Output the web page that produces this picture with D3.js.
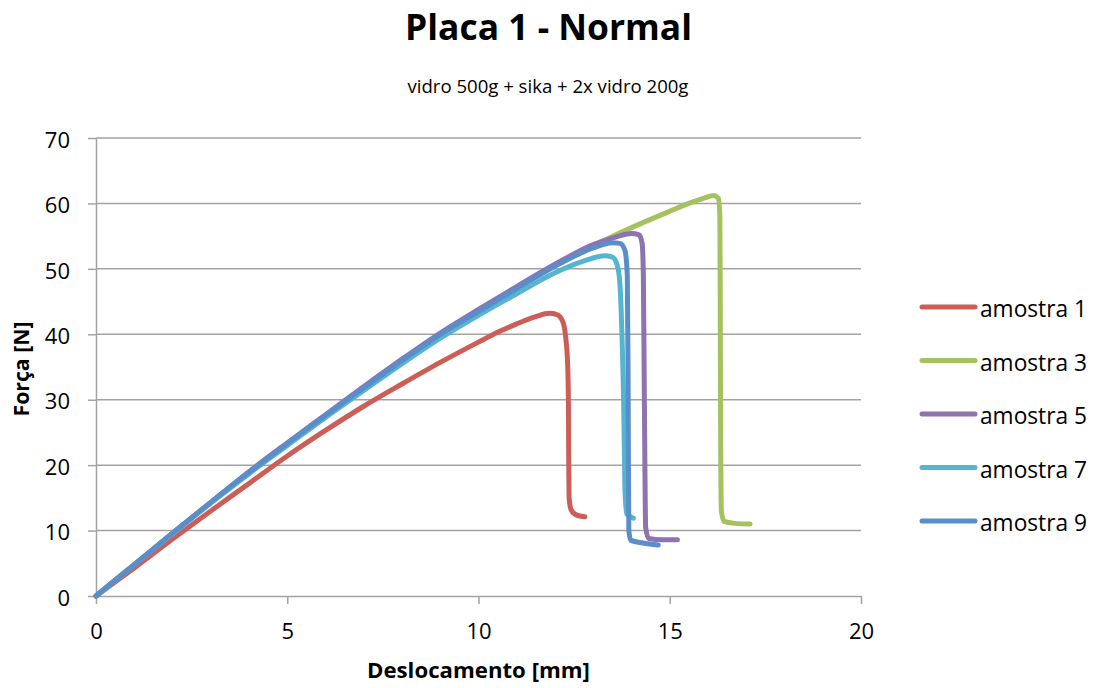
<!DOCTYPE html>
<html>
<head>
<meta charset="utf-8">
<script src="https://cdn.jsdelivr.net/npm/d3@7"></script>
<style>
  html, body { margin: 0; padding: 0; background: #fff; }
  svg { display: block; font-family: "Open Sans", "Noto Sans", sans-serif; }
</style>
</head>
<body>
<svg id="chart" width="1096" height="688"></svg>
<script>
// ---------------- DATA ----------------
const title = "Placa 1 - Normal";
const subtitle = "vidro 500g + sika + 2x vidro 200g";
const xAxisTitle = "Deslocamento [mm]";
const yAxisTitle = "Força [N]";
const xTicks = [0, 5, 10, 15, 20];
const yTicks = [0, 10, 20, 30, 40, 50, 60, 70];
const seriesNames = ["amostra 1", "amostra 3", "amostra 5", "amostra 7", "amostra 9"];
const seriesColors = ["#CD5E57", "#A5C25E", "#8D73B0", "#54B5CF", "#5A8ECB"];

// [deslocamento mm, força N]
const amostra1 = [[0,0],[1,4.3],[2,8.7],[3,13.0],[4,17.2],[5,21.4],[6,25.3],[7,29.0],[8,32.4],[9,35.7],[10,38.8],[10.5,40.3],[11,41.6],[11.5,42.7],[11.85,43.2],[12.05,43.0],[12.2,42.0],[12.28,39.5],[12.33,35.5],[12.35,30],[12.36,20],[12.37,15],[12.42,13.2],[12.55,12.4],[12.78,12.1]];
const amostra3 = [[0,0],[1,4.8],[2,9.6],[3,14.3],[4,18.9],[5,23.3],[6,27.6],[7,31.8],[8,36.0],[9,40.0],[10,43.6],[11,47.1],[12,50.5],[13,53.5],[14,56.3],[15,58.8],[15.5,60.0],[15.9,60.8],[16.15,61.2],[16.27,60.8],[16.31,58],[16.32,45],[16.33,25],[16.35,13],[16.42,11.4],[16.7,11.1],[17.1,11.0]];
const amostra5 = [[0,0],[1,4.8],[2,9.6],[3,14.3],[4,19.0],[5,23.4],[6,27.7],[7,32.0],[8,36.2],[9,40.2],[10,43.8],[11,47.3],[12,50.7],[13,53.7],[13.6,54.9],[14.0,55.4],[14.2,55.2],[14.28,53.8],[14.31,49],[14.33,35],[14.35,20],[14.37,10.5],[14.45,8.8],[14.8,8.6],[15.2,8.6]];
const amostra7 = [[0,0],[1,4.8],[2,9.5],[3,14.2],[4,18.7],[5,23.0],[6,27.3],[7,31.4],[8,35.5],[9,39.4],[10,42.9],[11,46.2],[12,49.4],[12.8,51.3],[13.3,52.0],[13.5,51.8],[13.63,50.5],[13.7,47.5],[13.75,40],[13.8,28],[13.83,16],[13.88,12.5],[14.05,11.9]];
const amostra9 = [[0,0],[1,4.8],[2,9.6],[3,14.3],[4,18.9],[5,23.3],[6,27.6],[7,31.8],[8,36.0],[9,40.0],[10,43.5],[11,47.0],[12,50.4],[13,53.2],[13.5,54.0],[13.7,53.9],[13.83,52.8],[13.89,49],[13.91,35],[13.92,20],[13.93,10],[13.98,8.5],[14.3,8.1],[14.7,7.8]];
const seriesData = [amostra1, amostra3, amostra5, amostra7, amostra9];

// ---------------- LAYOUT ----------------
const svg = d3.select("#chart");
const plot = { left: 96, right: 861, top: 138, bottom: 596 };
const x = d3.scaleLinear().domain([0, 20]).range([plot.left, plot.right]);
const y = d3.scaleLinear().domain([0, 70]).range([plot.bottom, plot.top]);
const gridColor = "#A3A3A3";

function fitText(sel, targetWidth) {
  const node = sel.node();
  const fs = parseFloat(sel.attr("font-size"));
  const w = node.getComputedTextLength();
  if (w > 0) sel.attr("font-size", (fs * targetWidth / w).toFixed(2));
  return sel;
}

// gridlines
svg.append("g")
  .selectAll("line")
  .data(yTicks.filter(d => d > 0))
  .join("line")
  .attr("x1", plot.left).attr("x2", plot.right)
  .attr("y1", d => y(d)).attr("y2", d => y(d))
  .attr("stroke", gridColor).attr("stroke-width", 1.5);

// x axis
const xAxis = svg.append("g")
  .attr("transform", `translate(0,${plot.bottom})`)
  .call(d3.axisBottom(x).tickValues(xTicks).tickSize(8).tickSizeOuter(0).tickPadding(8));
xAxis.select(".domain").attr("stroke", gridColor).attr("stroke-width", 1.5);
xAxis.selectAll(".tick line").attr("stroke", gridColor).attr("stroke-width", 1.5);
xAxis.selectAll(".tick text")
  .attr("font-size", 22).attr("font-family", "Open Sans").attr("fill", "#000")
  .attr("dy", null).attr("y", 43);

// y axis
const yAxis = svg.append("g")
  .attr("transform", `translate(${plot.left},0)`)
  .call(d3.axisLeft(y).tickValues(yTicks).tickSize(8).tickSizeOuter(0).tickPadding(8));
yAxis.select(".domain").attr("stroke", gridColor).attr("stroke-width", 1.5);
yAxis.selectAll(".tick line").attr("stroke", gridColor).attr("stroke-width", 1.5);
yAxis.selectAll(".tick text")
  .attr("font-size", 22).attr("font-family", "Open Sans").attr("fill", "#000")
  .attr("x", -26).attr("dy", "0.42em");

// series
const line = d3.line().x(d => x(d[0])).y(d => y(d[1])).curve(d3.curveMonotoneX);
svg.append("g")
  .selectAll("path")
  .data(seriesData)
  .join("path")
  .attr("d", line)
  .attr("fill", "none")
  .attr("stroke", (d, i) => seriesColors[i])
  .attr("stroke-width", 5)
  .attr("stroke-linejoin", "round")
  .attr("stroke-linecap", "round");

// titles
fitText(svg.append("text")
  .attr("x", 548.5).attr("y", 40).attr("text-anchor", "middle")
  .attr("font-weight", "bold").attr("font-size", 35).text(title), 287);

fitText(svg.append("text")
  .attr("x", 548).attr("y", 93).attr("text-anchor", "middle")
  .attr("font-size", 16).text(subtitle), 281);

fitText(svg.append("text")
  .attr("x", (plot.left + plot.right) / 2).attr("y", 678).attr("text-anchor", "middle")
  .attr("font-weight", "bold").attr("font-size", 22).text(xAxisTitle), 223);

fitText(svg.append("text")
  .attr("transform", "translate(29,369) rotate(-90)")
  .attr("text-anchor", "middle")
  .attr("font-weight", "bold").attr("font-size", 22).text(yAxisTitle), 95);

// legend
const legendY0 = 307, legendStep = 53.5;
const leg = svg.append("g")
  .selectAll("g")
  .data(seriesNames)
  .join("g")
  .attr("transform", (d, i) => `translate(0,${legendY0 + i * legendStep})`);
leg.append("line")
  .attr("x1", 922).attr("x2", 975).attr("y1", 0).attr("y2", 0)
  .attr("stroke", (d, i) => seriesColors[i])
  .attr("stroke-width", 5).attr("stroke-linecap", "round");
leg.append("text")
  .attr("x", 980).attr("y", 10)
  .attr("font-size", 22).text(d => d)
  .each(function() { fitText(d3.select(this), 107); });
</script>
</body>
</html>
